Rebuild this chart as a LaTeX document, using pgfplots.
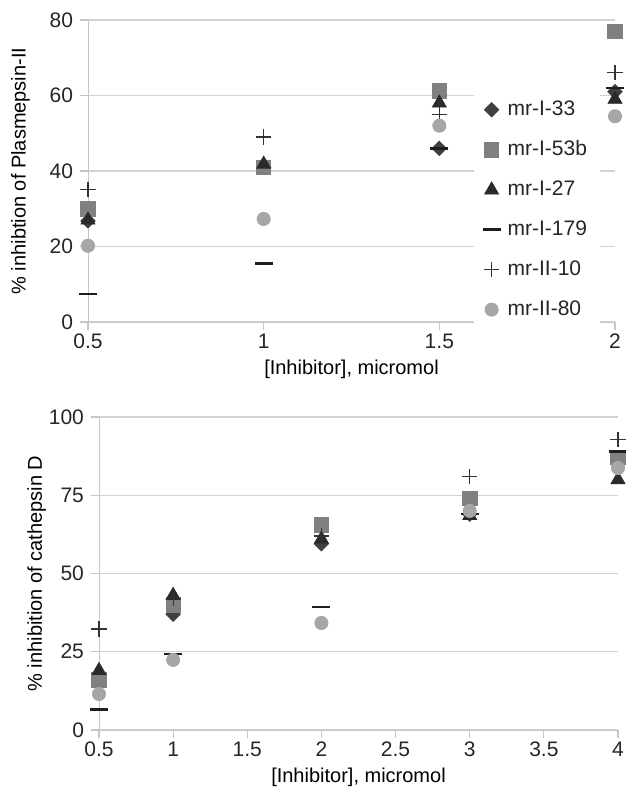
\documentclass[border=0pt]{standalone}
\usepackage{fontspec}
\setmainfont{Liberation Sans}
\usepackage{pgfplots}
\pgfplotsset{compat=1.18}

\definecolor{c33}{HTML}{404040}
\definecolor{c53}{HTML}{808080}
\definecolor{c27}{HTML}{2A2A2A}
\definecolor{c179}{HTML}{1E1E1E}
\definecolor{c10}{HTML}{333333}
\definecolor{c80}{HTML}{A6A6A6}

\pgfplotsset{
  panel/.style={
    scale only axis, axis x line=bottom, axis y line=left,
    axis line style={draw=gray!45, -}, tick style={draw=gray!45, line width=0.6pt},
    tick align=outside, major tick length=4pt,
    ymajorgrids, grid style={draw=gray!35, line width=0.7pt},
    tick label style={font=\fontsize{10.5}{12.6}\selectfont, text=black!85},
    xticklabel style={yshift=1.5pt},
    label style={font=\fontsize{10.5}{12.6}\selectfont, text=black!85},
    /pgf/number format/assume math mode=true,
    clip=false,
  },
  s33/.style={only marks, color=c33, mark=diamond*, mark size=3.6pt, mark options={xscale=1.33}},
  s53/.style={only marks, color=c53, mark=square*, mark size=3.6pt},
  s27/.style={only marks, color=c27, mark=triangle*, mark size=4pt},
  s179/.style={only marks, color=c179, mark=-, mark size=4.5pt, mark options={line width=1.4pt}},
  s10/.style={only marks, color=c10, mark=+, mark size=3.8pt, mark options={line width=0.6pt}},
  s80/.style={only marks, color=c80, mark=*, mark size=3.3pt},
}

\begin{document}
\begin{tikzpicture}
\path[use as bounding box] (0,0) rectangle (313pt,399.5pt);

% Plasmepsin-II
\begin{axis}[panel, at={(44pt,238.5pt)}, anchor=south west,
  width=263.5pt, height=151pt,
  xmin=0.5, xmax=2, ymin=0, ymax=80,
  xtick={0.5,1,1.5,2}, ytick={0,20,40,60,80},
  xlabel={[Inhibitor], micromol},
  ylabel={\% inhibtion of Plasmepsin-II},
  every axis x label/.style={at={(axis description cs:0.5,-0.156)}, anchor=center},
  every axis y label/.style={at={(axis description cs:-0.128,0.5)}, rotate=90, anchor=center},
  legend style={draw=none, fill=white, at={(0.731,0.76)}, anchor=north west,
    font=\fontsize{10.5}{12.6}\selectfont, text=black!85, row sep=7.1pt,
    inner xsep=4.5pt, inner ysep=2pt,
    /tikz/every odd column/.append style={column sep=1.5pt}},
  legend cell align=left]
\addplot[s33] coordinates {(0.5,26.8) (1,41) (1.5,46) (2,61)};
\addplot[s53] coordinates {(0.5,30) (1,41) (1.5,61.2) (2,77)};
\addplot[s27] coordinates {(0.5,27) (1,41.8) (1.5,58) (2,59)};
\addplot[s179] coordinates {(0.5,7.4) (1,15.5) (1.5,46) (2,62)};
\addplot[s10] coordinates {(0.5,35) (1,49) (1.5,55) (2,66)};
\addplot[s80] coordinates {(0.5,20.2) (1,27.3) (1.5,52) (2,54.5)};
\legend{mr-I-33, mr-I-53b, mr-I-27, mr-I-179, mr-II-10, mr-II-80}
\end{axis}

% cathepsin D
\begin{axis}[panel, at={(49.5pt,34.5pt)}, anchor=south west,
  width=259.5pt, height=156.5pt,
  xmin=0.5, xmax=4, ymin=0, ymax=100,
  xtick={0.5,1,1.5,2,2.5,3,3.5,4}, ytick={0,25,50,75,100},
  xlabel={[Inhibitor], micromol},
  ylabel={\% inhibition of cathepsin D},
  every axis x label/.style={at={(axis description cs:0.5,-0.152)}, anchor=center},
  every axis y label/.style={at={(axis description cs:-0.12,0.5)}, rotate=90, anchor=center}]
\addplot[s33] coordinates {(0.5,15) (1,37) (2,59.5) (3,69) (4,85)};
\addplot[s53] coordinates {(0.5,16) (1,40) (2,65.5) (3,74) (4,87)};
\addplot[s27] coordinates {(0.5,19) (1,43) (2,61) (3,68.5) (4,80)};
\addplot[s179] coordinates {(0.5,6.5) (1,24.3) (2,39.3) (3,69) (4,89)};
\addplot[s10] coordinates {(0.5,32.3) (1,42) (2,62) (3,81) (4,92.7)};
\addplot[s80] coordinates {(0.5,11.5) (1,22.4) (2,34.2) (3,70) (4,83.7)};
\end{axis}
\end{tikzpicture}
\end{document}
